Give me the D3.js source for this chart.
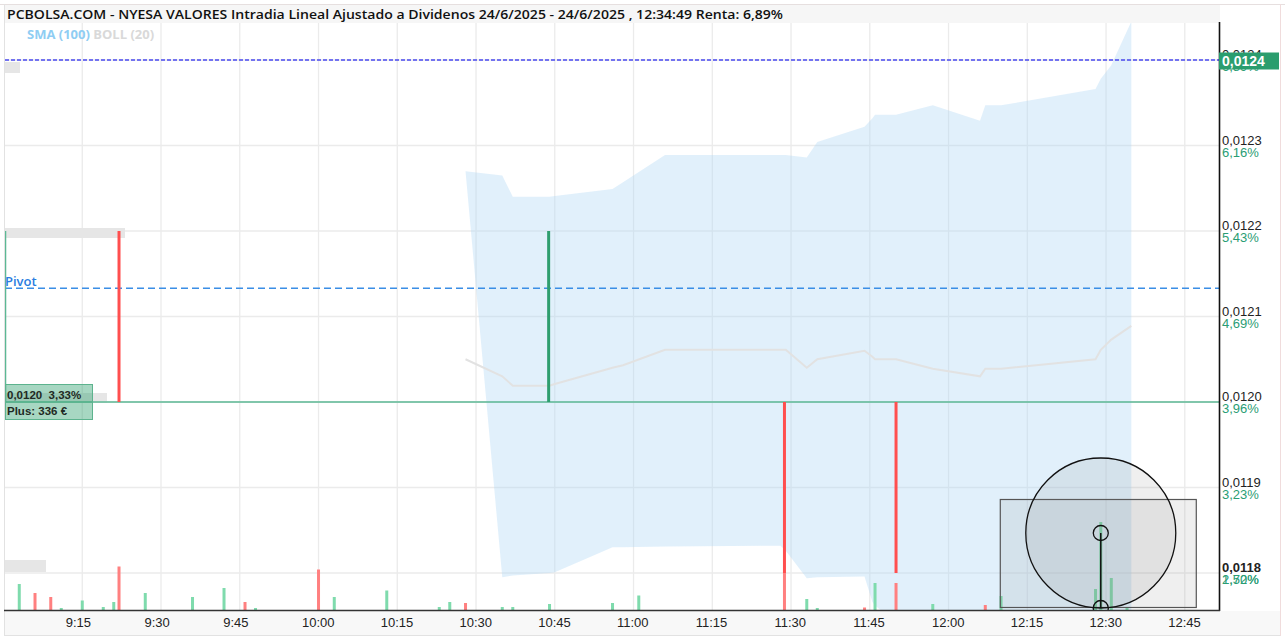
<!DOCTYPE html>
<html><head><meta charset="utf-8">
<script src="https://cdn.jsdelivr.net/npm/d3@7"></script>
<style>body{margin:0;background:#fff}svg{display:block}</style>
</head><body>
<svg id="c" width="1285" height="638"></svg>
<script>
// ---------- data ----------
const titleText = "PCBOLSA.COM - NYESA VALORES Intradia Lineal Ajustado a Dividenos 24/6/2025 - 24/6/2025 , 12:34:49 Renta: 6,89%";
const legendItems = ["SMA (100)", "BOLL (20)"];
const priceTicks = [0.0118, 0.0119, 0.0120, 0.0121, 0.0122, 0.0123, 0.0124];
const pctLabels  = ["2,50%", "3,23%", "3,96%", "4,69%", "5,43%", "6,16%", "6,89%"];
const extraPctLabel = "1,72%";
const lastPrice = 0.0124;
const pivotPrice = 0.012133;
const positionPrice = 0.0120;
const positionLabels = ["0,0120  3,33%", "Plus: 336 €"];

// price moves (vertical segments of the intraday line)
const moveTimes = ["09:00:20", "09:22", "10:43:50", "11:28:45", "11:50"];
const moveFrom  = [0.0120, 0.0122, 0.0120, 0.0120, 0.0120];
const moveTo    = [0.0122, 0.0120, 0.0122, 0.0118, 0.0118];
const moveKind  = ["open", "down", "up", "down", "down"];

// Bollinger (20) band + SMA
const bandTimes = ["10:28","10:35","10:37","10:44","10:45","10:56","10:58","11:06","11:28","11:29","11:33","11:35","11:44","11:45:30","11:46","11:47","11:50","11:57","12:06","12:07","12:10","12:28","12:29","12:31","12:34:49"];
const bandUpper = [0.012270,0.012265,0.012240,0.012240,0.012241,0.012249,0.012257,0.012289,0.012289,0.012289,0.012286,0.012304,0.012322,0.012332,0.012336,0.012336,0.012336,0.012347,0.012329,0.012347,0.012347,0.012366,0.012378,0.012394,0.012445];
const bandMid   = [0.012050,0.012030,0.012019,0.012019,0.012021,0.012040,0.012043,0.012061,0.012061,0.012061,0.012040,0.012050,0.012060,0.012053,0.012050,0.012050,0.012050,0.012039,0.012030,0.012039,0.012039,0.012050,0.012061,0.012073,0.012089];
const bandLower = [0.012270,0.011795,0.011797,0.011800,0.011801,0.011830,0.011830,0.011831,0.011832,0.011826,0.011794,0.011795,0.011796,0.011766,0.011762,0.011757,0.011745,0.011740,0.011738,0.011738,0.011736,0.011730,0.011728,0.011726,0.011720];

// volume
const volTimes = ["09:03","09:06","09:09","09:11","09:15","09:19","09:21","09:22","09:27","09:36","09:42","09:46","09:48","10:00","10:03","10:13","10:23","10:25","10:28","10:35","10:37","10:44","10:56","11:01","11:28:45","11:33","11:35","11:44","11:46","11:50","11:57","12:07","12:10","12:28","12:29","12:31","12:34"];
const volValues = [260000,170000,130000,20000,95000,30000,80000,435000,170000,130000,220000,80000,20000,405000,130000,195000,30000,80000,70000,30000,30000,60000,70000,145000,370000,110000,20000,25000,270000,270000,60000,50000,140000,210000,880000,320000,20000];
const volDir = ["up","down","down","up","up","up","up","down","up","up","up","down","up","down","up","up","up","up","down","up","up","up","up","up","down","up","up","down","up","down","up","down","up","up","up","up","up"];

// hover marker
const hoverTime = "12:29";
const hoverVol = 770000;

// ---------- setup ----------
const W = 1285, H = 638;
const L = 5, R = 1219, T = 23, B = 610;
const parseT = s => d3.timeParse(s.length > 5 ? "%H:%M:%S" : "%H:%M")(s);
const x = d3.scaleTime().domain([parseT("09:00:17"), parseT("12:51:31")]).range([L, R]);
const y = d3.scaleLinear().domain([0.0118, 0.0124]).range([573, 60]);
const yv = d3.scaleLinear().domain([0, 1000000]).range([B, B - 100]);
const fmtP = v => d3.format(".4f")(v).replace(".", ",");

const svg = d3.select("#c");
svg.append("rect").attr("width", W).attr("height", H).attr("fill", "#fff");

const defs = svg.append("defs");
defs.append("clipPath").attr("id", "plot").append("rect")
  .attr("x", L).attr("y", T).attr("width", R - L).attr("height", B - T);

// frame
svg.append("rect").attr("x", L).attr("y", 5).attr("width", R - L + 1).attr("height", T - 5).attr("fill", "#f6f6f6");
svg.append("line").attr("x1", 0).attr("x2", W).attr("y1", 4.5).attr("y2", 4.5).attr("stroke", "#e6dfdf");
svg.append("rect").attr("x", L).attr("y", B + 1).attr("width", 1280 - L).attr("height", 24).attr("fill", "#f8f8f8");
svg.append("line").attr("x1", 4).attr("x2", 1281).attr("y1", 635.5).attr("y2", 635.5).attr("stroke", "#e2e2e2");
svg.append("line").attr("x1", 4.5).attr("x2", 4.5).attr("y1", 4).attr("y2", 636).attr("stroke", "#e2e2e2");
svg.append("line").attr("x1", 1280.5).attr("x2", 1280.5).attr("y1", 4).attr("y2", 636).attr("stroke", "#f0dcdc");

const g = svg.append("g").attr("clip-path", "url(#plot)");

// grid
const xTicks = x.ticks(d3.timeMinute.every(15));
g.selectAll(".vg").data(xTicks).join("line")
  .attr("x1", d => x(d)).attr("x2", d => x(d)).attr("y1", T).attr("y2", B)
  .attr("stroke", "#ebebeb").attr("stroke-width", 1.3);
g.selectAll(".hg").data(priceTicks).join("line")
  .attr("x1", L).attr("x2", R).attr("y1", d => y(d)).attr("y2", d => y(d))
  .attr("stroke", "#ebebeb").attr("stroke-width", 1.3);

// band
const band = bandTimes.map((t, i) => ({t: parseT(t), u: bandUpper[i], m: bandMid[i], l: bandLower[i]}));
g.append("path").datum(band)
  .attr("d", d3.area().x(d => x(d.t)).y0(d => y(d.l)).y1(d => y(d.u)))
  .attr("fill", "rgb(176,216,245)").attr("fill-opacity", 0.38);
g.append("path").datum(band)
  .attr("d", d3.line().x(d => x(d.t)).y(d => y(d.m)))
  .attr("fill", "none").attr("stroke", "#e2e2e2").attr("stroke-width", 2);

// volume bars
const vols = volTimes.map((t, i) => ({t: parseT(t), v: volValues[i], d: volDir[i]}));
g.selectAll(".vol").data(vols).join("rect")
  .attr("x", d => x(d.t) - 1.5).attr("width", 3)
  .attr("y", d => yv(d.v)).attr("height", d => B - yv(d.v))
  .attr("fill", d => d.d === "up" ? "#7fdbad" : "#ff8080");

// left gray label placeholders
const phPrices = [0.0124, 0.0122, 0.0120, 0.0118];
const phW = [15, 120, 102, 41];
const phOff = [2, -3, -9, -13];
const phH = [11, 10, 10, 12];
g.selectAll(".ph").data(phPrices).join("rect")
  .attr("x", L).attr("y", (d, i) => y(d) + phOff[i]).attr("width", (d, i) => phW[i]).attr("height", (d, i) => phH[i])
  .attr("fill", "#e6e6e6");

// position line
g.append("line").attr("x1", L).attr("x2", R).attr("y1", y(positionPrice)).attr("y2", y(positionPrice))
  .attr("stroke", "#5cb894").attr("stroke-width", 1.6);

// pivot & last price dashed lines
g.append("line").attr("x1", L).attr("x2", R).attr("y1", y(pivotPrice)).attr("y2", y(pivotPrice))
  .attr("stroke", "#3a8ee6").attr("stroke-width", 1.4).attr("stroke-dasharray", "7,4");
g.append("line").attr("x1", L).attr("x2", R).attr("y1", y(lastPrice)).attr("y2", y(lastPrice))
  .attr("stroke", "#4a4af0").attr("stroke-width", 1.5).attr("stroke-dasharray", "4,2");

// price moves
const moves = moveTimes.map((t, i) => ({t: parseT(t), a: moveFrom[i], b: moveTo[i], k: moveKind[i]}));
g.selectAll(".mv").data(moves).join("line")
  .attr("x1", d => x(d.t)).attr("x2", d => x(d.t))
  .attr("y1", d => y(d.a)).attr("y2", d => y(d.b))
  .attr("stroke", d => d.k === "down" ? "#ff4f4f" : d.k === "up" ? "#2e9e6e" : "#5cb894")
  .attr("stroke-width", d => d.k === "open" ? 2 : 3);

// pivot label
g.append("text").attr("x", L).attr("y", y(pivotPrice) - 2).text("Pivot")
  .attr("font-family", "Open Sans").attr("font-weight", 600).attr("font-size", 13).attr("fill", "#2a7de1");

// position label box
const pb = svg.append("g");
pb.append("rect").attr("x", L + 0.5).attr("y", y(positionPrice) - 17.5).attr("width", 87).attr("height", 35)
  .attr("fill", "rgb(46,160,110)").attr("fill-opacity", 0.42).attr("stroke", "#5db38e").attr("stroke-width", 1);
pb.selectAll("text").data(positionLabels).join("text")
  .attr("x", L + 2).attr("y", (d, i) => y(positionPrice) - 3 + i * 16).text(d => d)
  .attr("font-family", "Liberation Sans, Arial").attr("font-weight", "bold").attr("font-size", 11.5).attr("fill", "#1f2a24")
  .attr("xml:space", "preserve").style("white-space", "pre");

// hover overlay
const hx = x(parseT(hoverTime)), hy = yv(hoverVol);
const ov = svg.append("g");
ov.append("rect").attr("x", hx - 100.5).attr("y", 499.5).attr("width", 196).attr("height", 108)
  .attr("fill", "rgb(128,128,128)").attr("fill-opacity", 0.13).attr("stroke", "#555").attr("stroke-width", 1.2);
ov.append("circle").attr("cx", hx).attr("cy", hy).attr("r", 75)
  .attr("fill", "rgb(128,128,128)").attr("fill-opacity", 0.13).attr("stroke", "#111").attr("stroke-width", 1.3);
ov.append("line").attr("x1", hx).attr("x2", hx).attr("y1", hy).attr("y2", B - 2).attr("stroke", "#111").attr("stroke-width", 1.5);
ov.append("circle").attr("cx", hx).attr("cy", hy).attr("r", 7.5).attr("fill", "none").attr("stroke", "#111").attr("stroke-width", 1.3);
const bc = ov.append("g").attr("clip-path", "url(#plot)");
bc.append("circle").attr("cx", hx).attr("cy", B - 2).attr("r", 7.5).attr("fill", "none").attr("stroke", "#111").attr("stroke-width", 1.3);

// axes lines
svg.append("line").attr("x1", R + 0.5).attr("x2", R + 0.5).attr("y1", 22).attr("y2", B + 1).attr("stroke", "#111").attr("stroke-width", 1.6);
svg.append("line").attr("x1", 4).attr("x2", R + 1).attr("y1", B + 0.5).attr("y2", B + 0.5).attr("stroke", "#333").attr("stroke-width", 1.5);

// x labels
svg.selectAll(".xl").data(xTicks).join("text")
  .attr("x", d => x(d) - 16.5).attr("y", 627).text(d => d3.timeFormat("%-H:%M")(d))
  .attr("font-family", "Liberation Sans, Arial").attr("font-size", 13).attr("fill", "#222");

// y labels
const yl = svg.append("g");
yl.selectAll(".yp").data(priceTicks).join("text")
  .attr("x", R + 3).attr("y", d => y(d) - 1).text(d => fmtP(d))
  .attr("font-family", "Liberation Sans, Arial").attr("font-size", 13).attr("fill", "#222")
  .attr("font-weight", (d, i) => i === 0 ? "bold" : "normal");
yl.selectAll(".yc").data(priceTicks).join("text")
  .attr("x", R + 3).attr("y", d => y(d) + 11).text((d, i) => pctLabels[i])
  .attr("font-family", "Liberation Sans, Arial").attr("font-size", 13).attr("fill", "#2a9d74");
yl.append("text").attr("x", R + 3).attr("y", y(priceTicks[0]) + 11).text(extraPctLabel)
  .attr("font-family", "Liberation Sans, Arial").attr("font-size", 13).attr("fill", "#2a9d74");

// last price box
svg.append("rect").attr("x", R).attr("y", y(lastPrice) - 7.5).attr("width", 60).attr("height", 17).attr("fill", "#2a9d6e");
svg.append("text").attr("x", R + 3).attr("y", y(lastPrice) + 6).text(fmtP(lastPrice))
  .attr("font-family", "Liberation Sans, Arial").attr("font-weight", "bold").attr("font-size", 14).attr("fill", "#fff");

// title
const tt = svg.append("text").attr("x", 7).attr("y", 19).text(titleText)
  .attr("font-family", "Open Sans").attr("font-weight", 600).attr("font-size", 13).attr("fill", "#111");
const tl = tt.node().getComputedTextLength();
if (Math.abs(tl - 776) > 8) tt.attr("textLength", 776).attr("lengthAdjust", "spacingAndGlyphs");

// legend
const lg = svg.append("text").attr("x", 27).attr("y", 39)
  .attr("font-family", "Open Sans").attr("font-weight", 700).attr("font-size", 13);
lg.append("tspan").text(legendItems[0] + " ").attr("fill", "#8fcdf3");
lg.append("tspan").text(legendItems[1]).attr("fill", "#d9d9d9");
</script>
</body></html>
